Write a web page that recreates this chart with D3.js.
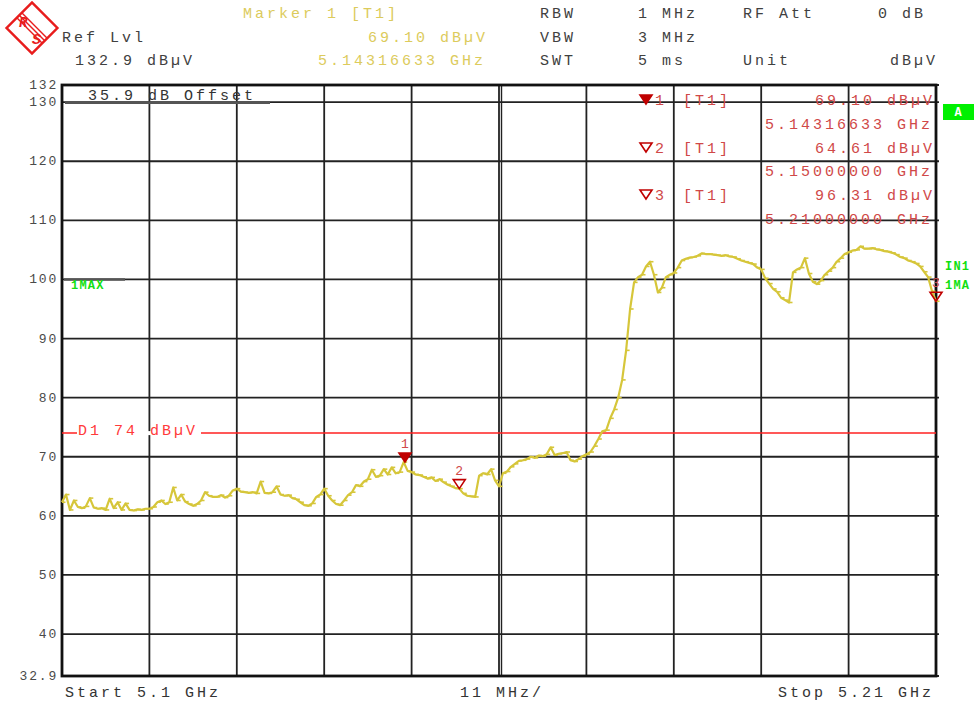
<!DOCTYPE html>
<html><head><meta charset="utf-8">
<script src="https://cdn.jsdelivr.net/npm/d3@7"></script>
<style>
html,body{margin:0;padding:0;background:#fff;}
svg text{font-family:"Liberation Mono","DejaVu Sans Mono",monospace;}
</style></head>
<body><svg id="c" width="975" height="702"></svg>
<script>
// ---- data ----
const sweepStartGHz = 5.100;
const sweepStopGHz = 5.210;
const sweepStepGHz = 0.0005;
const traceLevels = [
 62.3,63.6,61.0,62.6,61.5,61.3,61.6,63.0,61.4,61.2,
 61.3,61.0,62.9,61.3,62.3,61.0,62.1,61.0,60.9,61.1,
 61.0,61.2,61.2,61.5,62.3,62.6,62.0,62.3,64.8,62.6,
 63.6,62.4,62.0,61.7,62.0,62.6,64.0,63.4,63.2,63.2,
 63.5,63.1,63.4,64.3,64.6,64.1,64.0,63.9,64.0,63.8,
 65.8,63.9,63.8,64.0,65.0,63.6,63.4,63.5,63.0,62.8,
 62.3,61.8,61.7,62.1,63.2,63.6,64.6,63.4,62.6,62.0,
 61.8,62.6,63.5,64.0,65.2,65.0,65.8,66.2,67.8,66.6,
 66.8,67.9,67.0,68.2,67.2,67.4,69.1,67.6,67.4,67.0,
 66.9,66.6,66.3,66.5,65.9,66.2,65.7,65.3,65.0,64.7,
 64.6,63.8,63.4,63.3,63.2,66.8,67.2,67.0,67.9,66.0,
 65.0,67.2,67.5,68.3,68.8,69.3,69.4,69.6,70.0,69.8,
 70.2,70.1,70.4,71.6,70.3,70.5,70.6,70.8,69.4,69.2,
 69.6,70.1,70.4,70.8,71.8,73.0,74.3,74.5,76.5,78.0,
 80.0,83.0,88.0,95.0,99.5,100.4,100.8,102.2,103.0,100.8,
 97.8,98.6,100.4,100.8,101.1,102.0,103.2,103.5,103.7,103.8,
 104.0,104.4,104.3,104.3,104.2,104.1,104.0,104.1,103.9,103.8,
 103.5,103.2,103.0,102.8,102.6,102.0,101.7,100.2,99.3,98.4,
 97.9,96.9,96.5,96.1,101.2,101.7,102.0,103.6,101.0,99.6,
 99.2,99.8,100.8,101.4,102.0,103.0,103.6,104.3,104.6,104.9,
 105.0,105.6,105.2,105.2,105.3,105.1,105.0,104.8,104.7,104.5,
 104.2,103.8,103.6,103.2,103.0,102.7,102.2,101.3,100.4,98.0,
 96.31
];
const markerNames = ["1","2","3"];
const markerFreqs = [5.14316633, 5.15, 5.21];
const markerLevels = [69.10, 64.61, 96.31];
const displayLineLevel = 74;
const yTickValues = [132.9,130,120,110,100,90,80,70,60,50,40,32.9];
const yTickLabels = ["132","130","120","110","100","90","80","70","60","50","40","32.9"];
const xGridCount = 10;

// ---- layout ----
const svg = d3.select("#c");
const L = 62, R = 936, T = 85, B = 676;
const x = d3.scaleLinear().domain([sweepStartGHz, sweepStopGHz]).range([L, R]);
const y = d3.scaleLinear().domain([32.9, 132.9]).range([B, T]);
const mono = 15, ls = 3;
const grey = "#404040", yellow = "#dccb5c", red = "#d04848", dred = "#c00000", green = "#10e010";

function txt(s, px, py, col, opt={}) {
  return svg.append("text").attr("x", px).attr("y", py).text(s)
    .attr("fill", col).attr("font-size", opt.size || mono)
    .attr("letter-spacing", opt.ls !== undefined ? opt.ls : ls)
    .attr("text-anchor", opt.anchor || "start")
    .attr("font-weight", opt.weight || "normal");
}

// ---- logo ----
const logo = svg.append("g").attr("transform","translate(32,28) rotate(45)");
logo.append("rect").attr("x",-18).attr("y",-18).attr("width",36).attr("height",36)
  .attr("fill","none").attr("stroke","#e81c1c").attr("stroke-width",2.4);
[-3.5,0,3.5].forEach(d => logo.append("line").attr("x1",-18).attr("x2",18).attr("y1",d).attr("y2",d)
  .attr("stroke","#e81c1c").attr("stroke-width",1.4));
svg.append("text").attr("x",19).attr("y",27).text("R").attr("fill","#e81c1c").attr("font-size",14).attr("font-weight","bold").attr("font-style","italic");
svg.append("text").attr("x",32).attr("y",44).text("S").attr("fill","#e81c1c").attr("font-size",15).attr("font-weight","bold").attr("font-style","italic");

// ---- header ----
txt("Marker 1 [T1]", 243, 18, yellow);
txt("Ref Lvl", 62, 42, grey);
txt("69.10 dBµV", 368, 42, yellow);
txt("132.9 dBµV", 75, 65, grey);
txt("5.14316633 GHz", 318, 65, yellow);
txt("RBW", 540, 18, grey); txt("1 MHz", 638, 18, grey); txt("RF Att", 743, 18, grey); txt("0 dB", 878, 18, grey);
txt("VBW", 540, 42, grey); txt("3 MHz", 638, 42, grey);
txt("SWT", 540, 65, grey); txt("5 ms", 638, 65, grey); txt("Unit", 743, 65, grey); txt("dBµV", 890, 65, grey);

// ---- grid ----
const g = svg.append("g");
yTickValues.forEach(v => {
  g.append("line").attr("x1", L).attr("x2", R + 3).attr("y1", y(v)).attr("y2", y(v))
    .attr("stroke", "#222").attr("stroke-width", 1.8);
});
d3.range(xGridCount + 1).forEach(i => {
  const xv = x(sweepStartGHz + (sweepStopGHz - sweepStartGHz) * i / xGridCount);
  g.append("line").attr("x1", xv).attr("x2", xv).attr("y1", T).attr("y2", B)
    .attr("stroke", "#222").attr("stroke-width", 1.8);
});
g.append("line").attr("x1", x(5.155)+2.5).attr("x2", x(5.155)+2.5).attr("y1", T).attr("y2", B).attr("stroke","#222").attr("stroke-width",1.4);
g.append("rect").attr("x", L).attr("y", T).attr("width", R - L).attr("height", B - T)
  .attr("fill","none").attr("stroke","#111").attr("stroke-width",2.8);

// y tick labels
yTickValues.forEach((v,i) => {
  txt(yTickLabels[i], 58, y(v) + 4, "#4a4a4a", {size: 13, ls: 1.8, anchor: "end"});
});

// offset label + bars
g.append("line").attr("x1", 65).attr("x2", 270).attr("y1", y(130)+0.5).attr("y2", y(130)+0.5).attr("stroke","#555").attr("stroke-width",2.6);
txt("35.9 dB Offset", 88, 100, "#333");
g.append("line").attr("x1", 64).attr("x2", 125).attr("y1", y(100)).attr("y2", y(100)).attr("stroke","#555").attr("stroke-width",2.6);
txt("1MAX", 71, 289, green, {size: 12, ls: 1.2, weight: "bold"});

// display line
svg.append("line").attr("x1", L).attr("x2", R).attr("y1", y(displayLineLevel)).attr("y2", y(displayLineLevel))
  .attr("stroke", "#ff2020").attr("stroke-width", 1.5);
svg.append("rect").attr("x", 77).attr("y", y(displayLineLevel)-2).attr("width", 124).attr("height", 4).attr("fill","#fff");
txt("D1 74 dBµV", 78, y(displayLineLevel)+2, "#ff3a3a");

// ---- trace ----
const pts = traceLevels.map((v,i) => [x(sweepStartGHz + i * sweepStepGHz), y(v)]);
svg.append("path").attr("d", d3.line()(pts)).attr("fill","none")
  .attr("stroke", "#d6c63a").attr("stroke-width", 2.2).attr("stroke-linejoin","round");
svg.append("g").selectAll("line").data(pts).join("line")
  .attr("x1", d => d[0]).attr("x2", d => d[0] + 3.5).attr("y1", d => d[1]).attr("y2", d => d[1])
  .attr("stroke", "#d6c63a").attr("stroke-width", 1.6);

// ---- markers on trace ----
markerFreqs.forEach((f,i) => {
  const mx = x(f), my = y(markerLevels[i]);
  const tri = `M${mx-6},${my-9} L${mx+6},${my-9} L${mx},${my} Z`;
  svg.append("path").attr("d", tri)
    .attr("fill", i === 0 ? dred : "#fff").attr("fill-opacity", i === 0 ? 1 : 0)
    .attr("stroke", dred).attr("stroke-width", 1.6);
  txt(markerNames[i], mx, my - 14, red, {size: 13, ls: 0, anchor: "middle"});
});

// ---- marker table ----
const rows = [100, 124, 148, 171, 195, 219];
markerFreqs.forEach((f,i) => {
  const ry = rows[i*2];
  const tri = `M640,${ry-5} L652,${ry-5} L646,${ry+4} Z`;
  svg.append("path").attr("d", tri).attr("fill", i === 0 ? dred : "none").attr("stroke", dred).attr("stroke-width", 1.6);
  txt(markerNames[i], 655, ry + 5, red);
  txt("[T1]", 683, ry + 5, red);
  txt(markerLevels[i].toFixed(2) + " dBµV", 815, ry + 5, red);
  txt(f.toFixed(8) + " GHz", 765, rows[i*2+1] + 5, red);
});

// ---- right side annotations ----
svg.append("rect").attr("x", 943).attr("y", 104).attr("width", 31).attr("height", 16).attr("fill", "#00f000");
txt("A", 958, 116, "#fff", {size: 12, ls: 0, anchor: "middle", weight: "bold"});
txt("IN1", 945, 270, green, {size: 12, ls: 1.2, weight: "bold"});
txt("1MA", 945, 289, green, {size: 12, ls: 1.2, weight: "bold"});

// ---- bottom ----
txt("Start 5.1 GHz", 65, 697, "#333");
txt("11 MHz/", 460, 697, "#333");
txt("Stop 5.21 GHz", 778, 697, "#333");
</script></body></html>
